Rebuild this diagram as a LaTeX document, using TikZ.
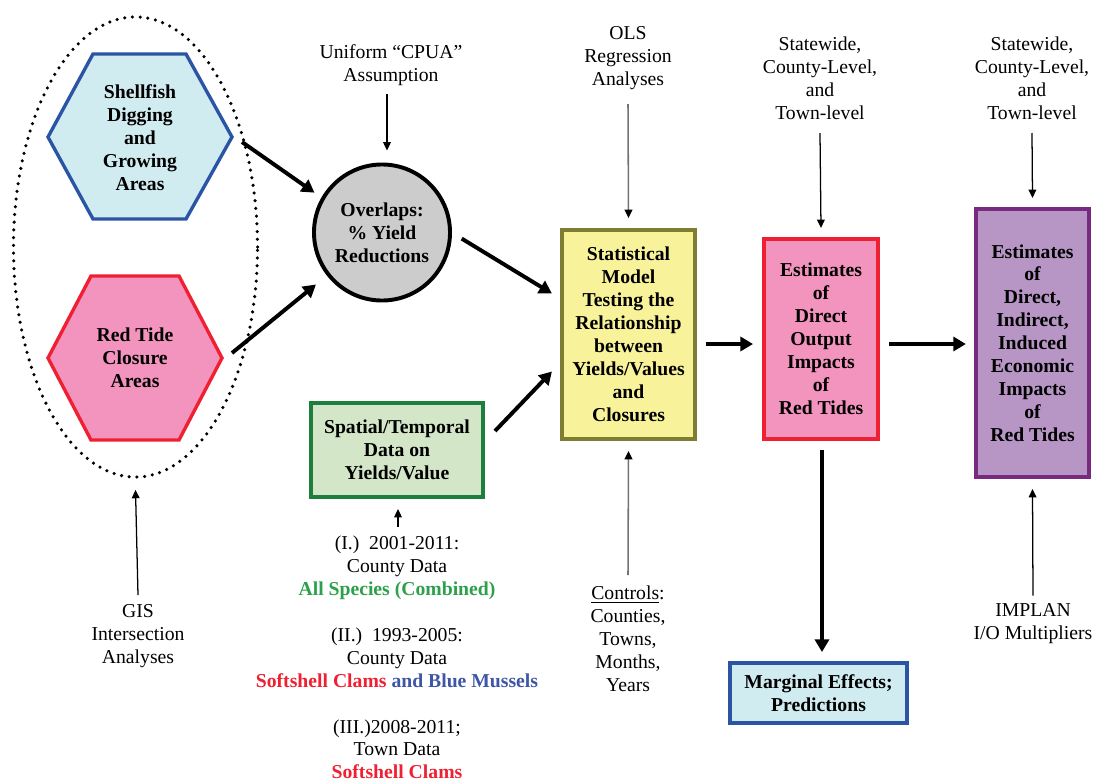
\documentclass[tikz,border=0pt]{standalone}
\usepackage{fontspec}
\setmainfont{Liberation Serif}
\usepackage{tikz}
\usetikzlibrary{shapes.geometric, arrows.meta, positioning, calc}

\definecolor{areablue}{HTML}{2B55A4}
\definecolor{areacyan}{HTML}{D1ECF1}
\definecolor{tidered}{HTML}{EE2032}
\definecolor{tidepink}{HTML}{F394BF}
\definecolor{overgray}{HTML}{CCCCCC}
\definecolor{datagreen}{HTML}{1D7F3D}
\definecolor{datafill}{HTML}{D3E6C8}
\definecolor{modelolive}{HTML}{7E7E33}
\definecolor{modelyellow}{HTML}{F8F39B}
\definecolor{econpurple}{HTML}{782B7E}
\definecolor{econfill}{HTML}{B796C6}
\definecolor{speciesgreen}{HTML}{2DA04B}
\definecolor{musselblue}{HTML}{3F56A6}

\begin{document}
\begin{tikzpicture}[x=0.025cm, y=-0.025cm,
    every node/.style={font=\fontsize{14}{16.3}\selectfont, align=center, inner sep=0pt},
    box/.style={draw, line width=2.8pt, font=\fontsize{14}{16.3}\selectfont\bfseries},
    hexline/.style={line width=2.4pt},
    bigarrow/.style={line width=2.8pt, -{Triangle[length=9pt,width=10pt]}},
    thinarrow/.style={line width=0.9pt, -{Triangle[length=6pt,width=5.5pt]}},
    grayarrow/.style={line width=1.1pt, draw=black!55, -{Triangle[length=6pt,width=5.5pt,color=black,fill=black]}}]
\useasboundingbox (0,0) rectangle (1099,783);

% Areas (GIS overlay)
\node[draw, ellipse, line width=2.5pt, dash pattern=on 0pt off 5.5pt, line cap=round,
      minimum width=6.1cm, minimum height=11.5cm] (areas) at (135.5,247) {};
\draw[hexline, draw=areablue, fill=areacyan] (93,54) -- (186,54) -- (232,137) -- (186,219) -- (93,219) -- (48,137) -- cycle;
\node[font=\fontsize{14}{16.3}\selectfont\bfseries] (shell) at (140,137.5) {Shellfish\\Digging\\and\\Growing\\Areas};
\coordinate (shellR) at (232,137);
\draw[hexline, draw=tidered, fill=tidepink] (91,276) -- (179,276) -- (222,358) -- (179,440) -- (91,440) -- (48,358) -- cycle;
\node[font=\fontsize{14}{16.3}\selectfont\bfseries] (tide) at (135,358) {Red Tide\\Closure\\Areas};
\coordinate (tideR) at (222,358);

% Overlaps
\node[circle, draw, line width=2.8pt, fill=overgray, minimum size=3.4cm,
      font=\fontsize{14}{16.3}\selectfont\bfseries] (over) at (382,232.5) {Overlaps:\\\% Yield\\Reductions};
\node (cpua) at (391,65) {Uniform ``CPUA''\\Assumption};

% Data and model
\node[box, draw=datagreen, fill=datafill, minimum width=4.3cm, minimum height=2.35cm] (spatial) at (397,450) {Spatial/Temporal\\Data on\\Yields/Value};
\node[box, draw=modelolive, fill=modelyellow, minimum width=3.33cm, minimum height=5.22cm] (stat) at (628.5,334.5) {Statistical\\Model\\Testing the\\Relationship\\between\\Yields/Values\\and\\Closures};
\node (ols) at (628,58) {OLS\\Regression\\Analyses};
\node (ctrl) at (628,639) {\underline{Controls}:\\Counties,\\Towns,\\Months,\\Years};
\node (data) at (397,657.5) {(I.)~~2001-2011:\\County Data\\\textcolor{speciesgreen}{\bfseries All Species (Combined)}\\[16.3pt]
  (II.)~~1993-2005:\\County Data\\\textcolor{tidered}{\bfseries Softshell Clams} \textcolor{musselblue}{\bfseries and Blue Mussels}\\[16.3pt]
  (III.)2008-2011;\\Town Data\\\textcolor{tidered}{\bfseries Softshell Clams}};
\node (gis) at (138,636) {GIS\\Intersection\\Analyses};

% Impacts
\node[box, draw=tidered, fill=tidepink, minimum width=2.85cm, minimum height=5.0cm] (est) at (821,339) {Estimates\\of\\Direct\\Output\\Impacts\\of\\Red Tides};
\node[box, draw=econpurple, fill=econfill, minimum width=2.83cm, minimum height=6.7cm] (econ) at (1032.5,343) {Estimates\\of\\Direct,\\Indirect,\\Induced\\Economic\\Impacts\\of\\Red Tides};
\node[box, draw=areablue, fill=areacyan, minimum width=4.43cm, minimum height=1.5cm] (marg) at (818.5,693) {Marginal Effects;\\Predictions};
\node (state1) at (820,78) {Statewide,\\County-Level,\\and\\Town-level};
\node (state2) at (1032,78) {Statewide,\\County-Level,\\and\\Town-level};
\node (implan) at (1033,623.5) {IMPLAN\\I/O Multipliers};

% Thick flow arrows
\draw[bigarrow, shorten >=6pt] ($(shellR)+(10,5)$) -- (over.150);
\draw[bigarrow, shorten >=10pt] ($(tideR)+(10,-5)$) -- (over.218);
\draw[bigarrow] ($(over.-5)+(10,0)$) -- ($(stat.west)+(-8,-41)$);
\draw[bigarrow] ($(spatial.east)+(10,-19)$) -- ($(stat.west)+(-8,37)$);
\draw[bigarrow] ($(stat.east)+(9,9.5)$) -- ($(est.west)+(-9,5)$);
\draw[bigarrow] ($(est.east)+(9,5)$) -- ($(econ.west)+(-8,1)$);
\draw[bigarrow] ($(est.south)+(1,9)$) -- ($(est.south |- marg.north)+(1,-9)$);

% Thin input arrows
\draw[thinarrow] ($(cpua)+(-4,29)$) -- ($(over.north)+(5,-12)$);
\draw[grayarrow] ($(ols)+(0,46)$) -- ($(stat.north)+(0,-10)$);
\draw[grayarrow] ($(ctrl)+(0,-64)$) -- ($(stat.south)+(0,10)$);
\draw[thinarrow] ($(state1)+(0,55)$) -- ($(est.north)+(0,-9)$);
\draw[thinarrow] ($(state2)+(0,55)$) -- ($(econ.north)+(0,-9)$);
\draw[thinarrow] ($(implan)+(0,-28)$) -- ($(econ.south)+(0,10)$);
\draw[thinarrow] ($(gis)+(0,-41)$) -- ($(areas.south)+(0,11)$);
\draw[thinarrow] ($(spatial.south)+(1,28)$) -- ($(spatial.south)+(1,10)$);
\end{tikzpicture}
\end{document}
